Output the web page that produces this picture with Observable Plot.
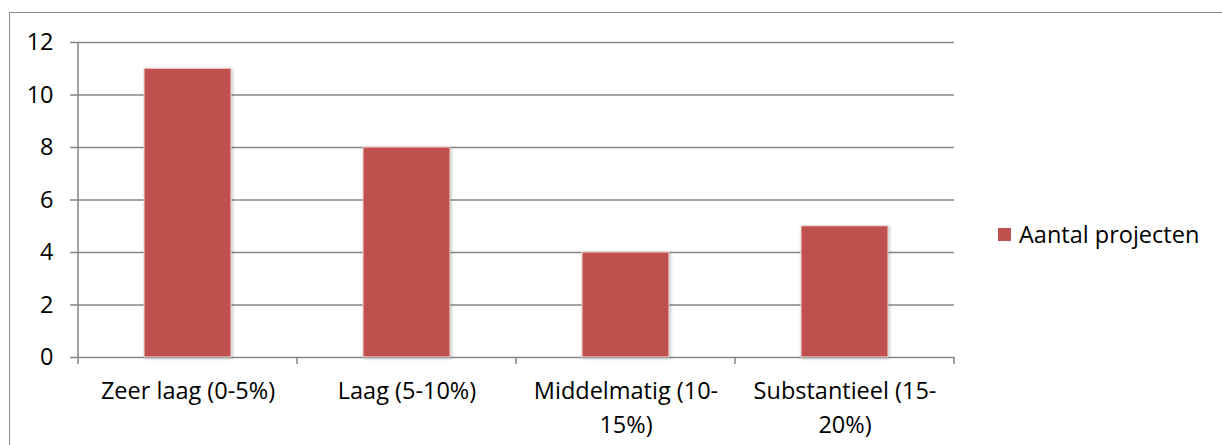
<!DOCTYPE html>
<html>
<head>
<meta charset="utf-8">
<script src="https://cdn.jsdelivr.net/npm/d3@7"></script>
<script src="https://cdn.jsdelivr.net/npm/@observablehq/plot@0.6"></script>
<style>
  html, body { margin: 0; padding: 0; background: #fff; overflow: hidden; }
  #wrap { position: relative; width: 1222px; height: 445px; overflow: hidden; font-family: "Open Sans", sans-serif; }
  #border { position: absolute; left: 9px; top: 12px; width: 1400px; height: 600px; border: 1.5px solid #8c8c8c; box-sizing: border-box; }
  #chart { position: absolute; left: 0; top: 0; }
  #legend { position: absolute; left: 998px; top: 218px; display: flex; align-items: center; font-size: 23.5px; color: #000; }
  #legend .sw { width: 13px; height: 13px; margin-right: 8px; }
  g[aria-label="bar"] rect { filter: drop-shadow(1px 1px 1.5px rgba(0,0,0,0.25)); stroke: #f3dede; stroke-width: 1; }
</style>
</head>
<body>
<div id="wrap">
  <div id="border"></div>
  <div id="chart"></div>
  <div id="legend"></div>
</div>
<script>
const categories = ["Zeer laag (0-5%)", "Laag (5-10%)", "Middelmatig (10-\n15%)", "Substantieel (15-\n20%)"];
const values = [11, 8, 4, 5];
const yTicks = [0, 2, 4, 6, 8, 10, 12];
const seriesName = "Aantal projecten";
const barColor = "#C0504D";
const gridColor = "#868686";

const data = categories.map((c, i) => ({category: c, value: values[i]}));

function axisLines(index, scales, values, dimensions) {
  const g = d3.create("svg:g").attr("aria-label", "x-boundary-ticks");
  const x = scales.x;
  const y0 = dimensions.height - dimensions.marginBottom;
  const bounds = categories.map(c => x(c)).concat([x(categories[categories.length - 1]) + x.bandwidth()]);
  for (const b of bounds) {
    g.append("line").attr("x1", b).attr("x2", b).attr("y1", y0).attr("y2", y0 + 7)
      .attr("stroke", gridColor).attr("stroke-width", 1.5);
  }
  // left value axis line
  g.append("line").attr("x1", bounds[0]).attr("x2", bounds[0])
    .attr("y1", scales.y(12)).attr("y2", scales.y(0))
    .attr("stroke", gridColor).attr("stroke-width", 1.5);
  return g.node();
}

const chart = Plot.plot({
  width: 1222,
  height: 445,
  marginLeft: 78,
  marginRight: 268,
  marginTop: 42,
  marginBottom: 88,
  style: {fontFamily: "'Open Sans', sans-serif", fontSize: "23.5px", color: "#000", background: "transparent", overflow: "visible"},
  x: {domain: categories, padding: 0},
  y: {domain: [0, 12]},
  marks: [
    Plot.gridY(yTicks, {stroke: gridColor, strokeOpacity: 1, strokeWidth: 1.5}),
    Plot.axisY(yTicks, {tickSize: 8, tickPadding: 17, stroke: gridColor, strokeWidth: 1.5, label: null, fill: "#000", fontSize: 23.5}),
    Plot.barY(data, {x: "category", y: "value", fill: barColor, insetLeft: 66, insetRight: 66}),
    Plot.axisX({tickSize: 0, tickPadding: 17, label: null, lineHeight: 1.45, fill: "#000", fontSize: 23.5}),
    axisLines
  ]
});
document.getElementById("chart").appendChild(chart);

const legend = document.getElementById("legend");
legend.innerHTML = `<div class="sw" style="background:${barColor}"></div><span>${seriesName}</span>`;
</script>
</body>
</html>
